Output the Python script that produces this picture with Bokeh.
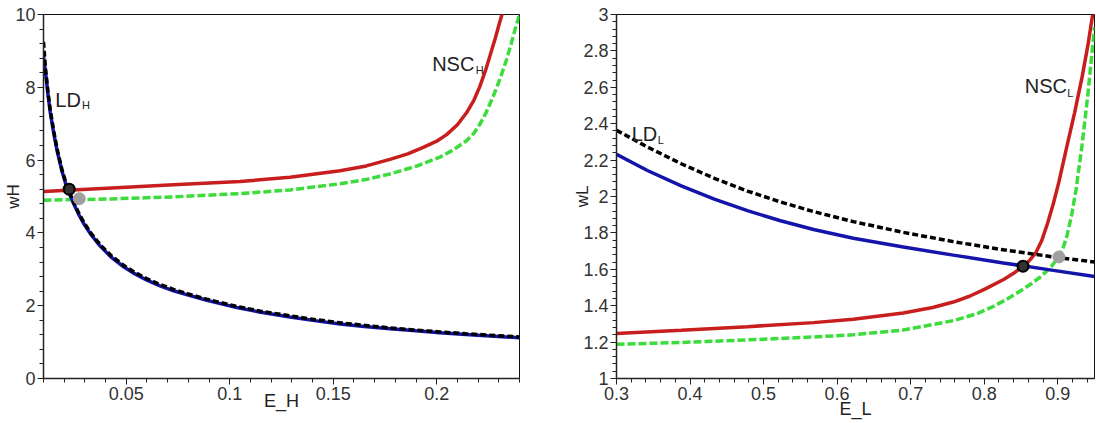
import numpy as np
from bokeh.plotting import figure
from bokeh.models import Label, FixedTicker
from bokeh.layouts import row
from bokeh.embed import file_html
from bokeh.resources import INLINE

# ---------------- Left panel: E_H vs wH ----------------
eh_ld = [0.0100, 0.0110, 0.0122, 0.0133, 0.0150, 0.0166, 0.0190, 0.0214, 0.0246, 0.0270,
         0.0294, 0.0330, 0.0375, 0.0430, 0.0487, 0.0540, 0.0600, 0.0660, 0.0728, 0.0800,
         0.0889, 0.0960, 0.1034, 0.1150, 0.1291, 0.1410, 0.1533, 0.1650, 0.1774, 0.1900,
         0.2015, 0.2140, 0.2257, 0.2400]
wh_ld_black = [9.25, 8.50, 7.85, 7.36, 6.78, 6.30, 5.72, 5.27, 4.84, 4.55,
               4.30, 3.99, 3.67, 3.36, 3.11, 2.92, 2.74, 2.59, 2.45, 2.32,
               2.18, 2.08, 1.98, 1.85, 1.72, 1.62, 1.53, 1.46, 1.39, 1.33,
               1.28, 1.23, 1.19, 1.14]
wh_ld_blue = [8.85, 8.40, 7.78, 7.30, 6.72, 6.25, 5.68, 5.23, 4.80, 4.51,
              4.26, 3.95, 3.63, 3.32, 3.07, 2.88, 2.70, 2.55, 2.41, 2.29,
              2.15, 2.05, 1.95, 1.82, 1.69, 1.59, 1.50, 1.43, 1.37, 1.31,
              1.26, 1.21, 1.17, 1.12]

eh_nsc_red = [0.0100, 0.0407, 0.0728, 0.1050, 0.1291, 0.1533, 0.1660, 0.1774, 0.1860, 0.1935,
              0.2000, 0.2048, 0.2100, 0.2144, 0.2180, 0.2208, 0.2235, 0.2257, 0.2283, 0.2305,
              0.2318]
wh_nsc_red = [5.14, 5.23, 5.32, 5.41, 5.53, 5.71, 5.84, 6.02, 6.17, 6.35,
              6.52, 6.70, 6.97, 7.30, 7.65, 8.02, 8.45, 8.86, 9.35, 9.80,
              10.05]

eh_nsc_green = [0.0100, 0.0407, 0.0728, 0.1050, 0.1291, 0.1533, 0.1660, 0.1774, 0.1900, 0.2015,
                0.2080, 0.2144, 0.2180, 0.2208, 0.2240, 0.2273, 0.2305, 0.2337, 0.2360, 0.2380,
                0.2400]
wh_nsc_green = [4.90, 4.93, 4.99, 5.08, 5.18, 5.35, 5.47, 5.62, 5.83, 6.08,
                6.28, 6.53, 6.74, 6.98, 7.32, 7.75, 8.22, 8.75, 9.20, 9.62,
                10.0]

eh_pt_black, wh_pt_black = [0.0224], [5.20]
eh_pt_gray, wh_pt_gray = [0.0273], [4.94]

left_xticks = [0.05, 0.1, 0.15, 0.2]
left_xlabels = ["0.05", "0.1", "0.15", "0.2"]
left_yticks = [0, 2, 4, 6, 8, 10]
left_ylabels = ["0", "2", "4", "6", "8", "10"]

# ---------------- Right panel: E_L vs wL ----------------
el_ld = [0.300, 0.342, 0.388, 0.433, 0.478, 0.523, 0.568, 0.622, 0.690, 0.758, 0.826, 0.894, 0.950]
wl_ld_black = [2.364, 2.272, 2.180, 2.100, 2.030, 1.970, 1.917, 1.862, 1.803, 1.752, 1.707, 1.668, 1.640]
wl_ld_blue = [2.232, 2.143, 2.058, 1.986, 1.922, 1.867, 1.819, 1.771, 1.722, 1.678, 1.635, 1.594, 1.560]

el_nsc_red = [0.300, 0.388, 0.478, 0.568, 0.622, 0.690, 0.730, 0.758, 0.780, 0.803,
              0.827, 0.840, 0.853, 0.862, 0.870, 0.878, 0.886, 0.894, 0.9016, 0.9116,
              0.9229, 0.9333, 0.941, 0.9475]
wl_nsc_red = [1.247, 1.265, 1.285, 1.307, 1.325, 1.360, 1.390, 1.420, 1.452, 1.495,
              1.545, 1.578, 1.617, 1.650, 1.690, 1.755, 1.850, 1.960, 2.080, 2.260,
              2.460, 2.660, 2.830, 3.000]

el_nsc_green = [0.300, 0.388, 0.478, 0.568, 0.622, 0.690, 0.758, 0.790, 0.812, 0.830,
                0.848, 0.862, 0.8755, 0.885, 0.8926, 0.9016, 0.908, 0.9129, 0.919, 0.925,
                0.933, 0.941, 0.9475, 0.950]
wl_nsc_green = [1.188, 1.198, 1.212, 1.228, 1.240, 1.266, 1.318, 1.356, 1.395, 1.434,
                1.478, 1.515, 1.555, 1.590, 1.622, 1.670, 1.725, 1.790, 1.900, 2.040,
                2.280, 2.560, 2.830, 2.930]

el_pt_black, wl_pt_black = [0.8528], [1.617]
el_pt_gray, wl_pt_gray = [0.9016], [1.668]

right_xticks = [0.3, 0.4, 0.5, 0.6, 0.7, 0.8, 0.9]
right_xlabels = ["0.3", "0.4", "0.5", "0.6", "0.7", "0.8", "0.9"]
right_yticks = [1, 1.2, 1.4, 1.6, 1.8, 2, 2.2, 2.4, 2.6, 2.8, 3]
right_ylabels = ["1", "1.2", "1.4", "1.6", "1.8", "2", "2.2", "2.4", "2.6", "2.8", "3"]

RED = "#c81e1e"
GREEN = "#3cdc3c"
BLUE = "#1414aa"
BLACK = "#000000"
FONT = "Liberation Sans"
TXT = "#222222"


def make_fig(width, xr, yr, bl, br, bb, xt, xl, yt, yl, xminor, yminor,
             xlabel, ylabel, xstand, ystand):
    p = figure(width=width, height=423, x_range=xr, y_range=yr,
               output_backend="svg", toolbar_location=None,
               min_border_left=bl, min_border_right=br, min_border_top=14,
               min_border_bottom=bb)
    p.xgrid.visible = False
    p.ygrid.visible = False
    p.background_fill_color = "white"
    p.border_fill_color = "white"
    p.outline_line_color = "#111111"
    p.outline_line_width = 1
    p.outline_line_alpha = 1
    p.xaxis[0].ticker = FixedTicker(ticks=xt, minor_ticks=xminor)
    p.yaxis[0].ticker = FixedTicker(ticks=yt, minor_ticks=yminor)
    p.xaxis[0].major_label_overrides = {t: s for t, s in zip(xt, xl)}
    p.yaxis[0].major_label_overrides = {t: s for t, s in zip(yt, yl)}
    p.xaxis[0].axis_label = xlabel
    p.yaxis[0].axis_label = ylabel
    p.xaxis[0].axis_label_standoff = xstand
    p.yaxis[0].axis_label_standoff = ystand
    p.xaxis[0].axis_label_text_font_size = "18px"
    p.yaxis[0].axis_label_text_font_size = "17px"
    for ax in (p.xaxis[0], p.yaxis[0]):
        ax.axis_line_color = "#222222"
        ax.axis_line_width = 1.5
        ax.major_tick_out = 6
        ax.major_tick_in = 0
        ax.minor_tick_out = 4
        ax.minor_tick_in = 0
        ax.major_tick_line_color = "#222222"
        ax.minor_tick_line_color = "#222222"
        ax.major_label_text_font = FONT
        ax.major_label_text_font_size = "18px"
        ax.major_label_text_color = "#333333"
        ax.major_label_standoff = 2
        ax.axis_label_text_font = FONT
        ax.axis_label_text_font_style = "normal"
        ax.axis_label_text_color = TXT
    return p


def add_text(p, x, y, text, size, **kw):
    p.add_layout(Label(x=x, y=y, text=text, text_font=FONT, text_font_size=size,
                       text_color=TXT, **kw))


# ---- left figure ----
p1 = make_fig(560, (0.01, 0.24), (0, 10), 43, 41, 36,
              left_xticks, left_xlabels, left_yticks, left_ylabels,
              [round(v, 2) for v in np.arange(0.01, 0.2401, 0.01)],
              [round(v, 1) for v in np.arange(0, 10.01, 0.4)],
              "E_H", "wH", -12, -11)

p1.line(eh_nsc_green, wh_nsc_green, line_color=GREEN, line_width=3.5, line_dash="8 3")
p1.line(eh_nsc_red, wh_nsc_red, line_color=RED, line_width=3.5)
p1.line(eh_ld, wh_ld_blue, line_color=BLUE, line_width=3.5)
p1.line(eh_ld, wh_ld_black, line_color=BLACK, line_width=3.5, line_dash="6 3")
p1.scatter(eh_pt_black, wh_pt_black, size=11, fill_color="#333333", line_color="#000000", line_width=2)
p1.scatter(eh_pt_gray, wh_pt_gray, size=12, fill_color="#a0a0a0", line_color="#a0a0a0", line_width=1)

add_text(p1, 0.0157, 7.65, "LD", "20px", text_baseline="alphabetic")
add_text(p1, 0.0286, 7.52, "H", "11px", text_baseline="alphabetic")
add_text(p1, 0.1978, 8.64, "NSC", "20px", text_baseline="alphabetic")
add_text(p1, 0.2188, 8.47, "H", "11px", text_baseline="alphabetic")

# ---- right figure ----
p2 = make_fig(536, (0.3, 0.95), (1, 3), 56, 2, 45,
              right_xticks, right_xlabels, right_yticks, right_ylabels,
              [round(v, 2) for v in np.arange(0.3, 0.9501, 0.02)],
              [round(v, 2) for v in np.arange(1, 3.001, 0.04)],
              "E_L", "wL", -4, -12)

p2.line(el_nsc_green, wl_nsc_green, line_color=GREEN, line_width=3.5, line_dash="8 3")
p2.line(el_nsc_red, wl_nsc_red, line_color=RED, line_width=3.5)
p2.line(el_ld, wl_ld_blue, line_color=BLUE, line_width=3.5)
p2.line(el_ld, wl_ld_black, line_color=BLACK, line_width=3.5, line_dash="6 3")
p2.scatter(el_pt_black, wl_pt_black, size=11, fill_color="#333333", line_color="#000000", line_width=2)
p2.scatter(el_pt_gray, wl_pt_gray, size=12, fill_color="#a0a0a0", line_color="#a0a0a0", line_width=1)

add_text(p2, 0.3207, 2.342, "LD", "20px", text_baseline="alphabetic")
add_text(p2, 0.356, 2.309, "L", "11px", text_baseline="alphabetic")
add_text(p2, 0.8552, 2.608, "NSC", "20px", text_baseline="alphabetic")
add_text(p2, 0.9129, 2.571, "L", "11px", text_baseline="alphabetic")

layout = row(p1, p2)
open("out.html", "w").write(file_html(layout, INLINE))
